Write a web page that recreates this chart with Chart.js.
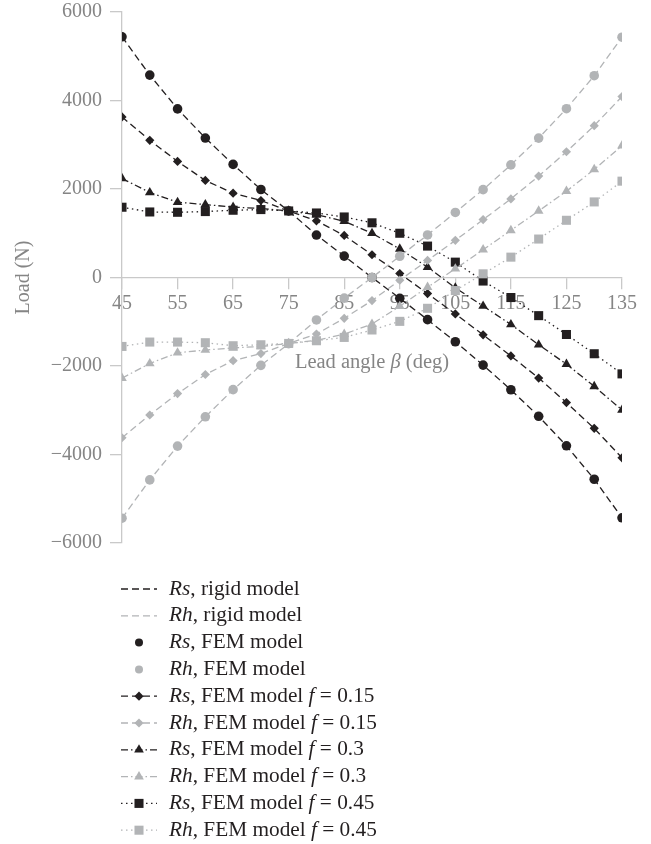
<!DOCTYPE html>
<html>
<head>
<meta charset="utf-8">
<script src="https://cdn.jsdelivr.net/npm/chart.js@4/dist/chart.umd.min.js"></script>
<style>
  html, body { margin: 0; padding: 0; background: #ffffff; }
  #wrap { width: 651px; height: 844px; position: relative; }
</style>
</head>
<body>
<div id="wrap"><canvas id="chart"></canvas></div>
<script>
// Lead angle β (deg) at which the loads were evaluated
const leadAngles = [45, 50, 55, 60, 65, 70, 75, 80, 85, 90, 95, 100, 105, 110, 115, 120, 125, 130, 135];

// Axis tick values
const xTickValues = [45, 55, 65, 75, 85, 95, 105, 115, 125, 135];
const yTickValues = [-6000, -4000, -2000, 0, 2000, 4000, 6000];

// Loads (N)
const rsRigid = [5440, 4574, 3810, 3152, 2556, 1989, 1504, 960, 484, 0, -470, -953, -1452, -1980, -2537, -3137, -3803, -4559, -5430];
const rhRigid = [-5440, -4574, -3810, -3148, -2535, -1985, -1495, -960, -465, 0, 480, 962, 1470, 1985, 2545, 3150, 3815, 4560, 5430];
const rsFem   = [5440, 4574, 3810, 3152, 2556, 1989, 1504, 960, 484, 0, -470, -953, -1452, -1980, -2537, -3137, -3803, -4559, -5430];
const rhFem   = [-5440, -4574, -3810, -3148, -2535, -1985, -1495, -960, -465, 0, 480, 962, 1470, 1985, 2545, 3150, 3815, 4560, 5430];
const rsF015  = [3629, 3100, 2624, 2193, 1905, 1740, 1504, 1280, 950, 514, 90, -363, -824, -1296, -1773, -2272, -2827, -3409, -4075];
const rhF015  = [-3621, -3107, -2624, -2192, -1880, -1720, -1490, -1277, -922, -522, -60, 386, 839, 1308, 1776, 2291, 2842, 3432, 4089];
const rsF03   = [2238, 1921, 1701, 1649, 1590, 1560, 1504, 1420, 1270, 1000, 645, 234, -234, -645, -1062, -1520, -1958, -2460, -2994];
const rhF03   = [-2275, -1943, -1701, -1640, -1590, -1560, -1490, -1420, -1280, -1051, -650, -219, 197, 628, 1066, 1504, 1950, 2442, 2979];
const rsF045  = [1588, 1481, 1474, 1490, 1520, 1535, 1504, 1458, 1368, 1236, 1000, 710, 347, -80, -453, -862, -1288, -1723, -2178];
const rhF045  = [-1558, -1459, -1459, -1474, -1542, -1520, -1490, -1429, -1354, -1186, -991, -696, -295, 83, 460, 869, 1293, 1708, 2177];

const DARK = '#231f20';
const LIGHT = '#b2b4b6';
const AXIS = '#c9c9c9';
const TEXT_GREY = '#858585';
const SERIF = "'Liberation Serif', 'DejaVu Serif', serif";

const pts = arr => arr.map((v, i) => ({ x: leadAngles[i], y: v }));

function lineSeries(label, values, color, dash, style, radius) {
  return {
    label,
    data: pts(values),
    borderColor: color,
    backgroundColor: color,
    pointBackgroundColor: color,
    borderWidth: 1.3,
    borderDash: dash,
    pointStyle: style || 'circle',
    pointRadius: radius || 0,
    pointHoverRadius: radius || 0,
    pointBorderWidth: 0,
    showLine: true,
    tension: 0,
    order: color === DARK ? 1 : 0
  };
}

function markerSeries(label, values, color, style, radius) {
  return {
    label,
    data: pts(values),
    borderColor: color,
    backgroundColor: color,
    pointBackgroundColor: color,
    borderWidth: 0,
    pointStyle: style,
    pointRadius: radius,
    pointHoverRadius: radius,
    pointBorderWidth: 0,
    showLine: false,
    order: color === DARK ? 1 : 0
  };
}

const datasets = [
  lineSeries('Rs, rigid model', rsRigid, DARK, [7, 4]),
  lineSeries('Rh, rigid model', rhRigid, LIGHT, [7, 4]),
  markerSeries('Rs, FEM model', rsFem, DARK, 'circle', 4.8),
  markerSeries('Rh, FEM model', rhFem, LIGHT, 'circle', 4.8),
  lineSeries('Rs, FEM model f = 0.15', rsF015, DARK, [7, 4], 'rectRot', 4.6),
  lineSeries('Rh, FEM model f = 0.15', rhF015, LIGHT, [7, 4], 'rectRot', 4.6),
  lineSeries('Rs, FEM model f = 0.3', rsF03, DARK, [7, 3, 1.5, 3], 'triangle', 5.6),
  lineSeries('Rh, FEM model f = 0.3', rhF03, LIGHT, [7, 3, 1.5, 3], 'triangle', 5.6),
  lineSeries('Rs, FEM model f = 0.45', rsF045, DARK, [1.5, 3.5], 'rect', 6.4),
  lineSeries('Rh, FEM model f = 0.45', rhF045, LIGHT, [1.5, 3.5], 'rect', 6.4)
];

// Draws a string where the symbols Rs, Rh, f and β are set in italics
function drawRich(ctx, text, x, y, size, color) {
  const parts = text.split(/(Rs|Rh|\bf\b|β)/);
  ctx.fillStyle = color;
  ctx.textBaseline = 'middle';
  ctx.textAlign = 'left';
  let cx = x;
  parts.forEach(p => {
    if (!p) return;
    const italic = /^(Rs|Rh|f|β)$/.test(p);
    ctx.font = (italic ? 'italic ' : '') + size + 'px ' + SERIF;
    ctx.fillText(p, cx, y);
    cx += ctx.measureText(p).width;
  });
  return cx - x;
}

function measureRich(ctx, text, size) {
  const parts = text.split(/(Rs|Rh|\bf\b|β)/);
  let w = 0;
  parts.forEach(p => {
    if (!p) return;
    const italic = /^(Rs|Rh|f|β)$/.test(p);
    ctx.font = (italic ? 'italic ' : '') + size + 'px ' + SERIF;
    w += ctx.measureText(p).width;
  });
  return w;
}

// x-axis title under the axis and the stacked legend below the plot
const annotations = {
  id: 'annotations',
  afterDraw(chart) {
    const ctx = chart.ctx;
    const area = chart.chartArea;
    const zeroY = chart.scales.y.getPixelForValue(0);

    ctx.save();
    const title = 'Lead angle β (deg)';
    const tw = measureRich(ctx, title, 20.5);
    drawRich(ctx, title, (area.left + area.right) / 2 - tw / 2, zeroY + 85, 20.5, TEXT_GREY);
    ctx.restore();

    const top = area.bottom + 46;
    const row = 26.8;
    const sx0 = 121, sx1 = 157, sm = 139, tx = 169;
    chart.data.datasets.forEach((ds, i) => {
      const y = top + i * row;
      ctx.save();
      if (ds.showLine) {
        ctx.strokeStyle = ds.borderColor;
        ctx.lineWidth = ds.borderWidth;
        ctx.setLineDash(ds.borderDash || []);
        ctx.beginPath();
        ctx.moveTo(sx0, y);
        ctx.lineTo(sx1, y);
        ctx.stroke();
        ctx.setLineDash([]);
      }
      if (ds.pointRadius > 0) {
        ctx.fillStyle = ds.pointBackgroundColor;
        Chart.helpers.drawPoint(ctx, {
          pointStyle: ds.pointStyle,
          radius: ds.pointStyle === 'circle' ? 4 : ds.pointRadius,
          rotation: 0,
          borderWidth: 0
        }, sm, y);
      }
      drawRich(ctx, ds.label, tx, y, 21.3, DARK);
      ctx.restore();
    });
  }
};

new Chart(document.getElementById('chart'), {
  type: 'line',
  data: { datasets },
  options: {
    responsive: true,
    maintainAspectRatio: false,
    animation: false,
    layout: { padding: { top: 12, right: 29, bottom: 301, left: 0 } },
    plugins: {
      legend: { display: false },
      tooltip: { enabled: false }
    },
    scales: {
      x: {
        type: 'linear',
        position: { y: 0 },
        min: 45,
        max: 135,
        afterBuildTicks: s => { s.ticks = xTickValues.map(v => ({ value: v })); },
        border: { display: true, color: AXIS, width: 1.3 },
        grid: { display: true, drawOnChartArea: false, drawTicks: true, tickLength: 11, color: AXIS, lineWidth: 1.3 },
        ticks: {
          padding: 3,
          autoSkip: false,
          maxRotation: 0,
          color: TEXT_GREY,
          font: { family: SERIF, size: 20 },
          callback: v => String(v)
        }
      },
      y: {
        type: 'linear',
        min: -6000,
        max: 6000,
        afterBuildTicks: s => { s.ticks = yTickValues.map(v => ({ value: v })); },
        afterFit: s => { s.width = 122; s.paddingTop = 0; s.paddingBottom = 0; },
        border: { display: true, color: AXIS, width: 1.3 },
        grid: { display: true, drawOnChartArea: false, drawTicks: true, tickLength: 12, color: AXIS, lineWidth: 1.3 },
        ticks: {
          padding: 8,
          color: TEXT_GREY,
          font: { family: SERIF, size: 20 },
          callback: v => (v < 0 ? '\u2212' + Math.abs(v) : String(v))
        },
        title: {
          display: true,
          text: 'Load (N)',
          color: TEXT_GREY,
          font: { family: SERIF, size: 20 },
          padding: { top: 12, bottom: 0 }
        }
      }
    }
  },
  plugins: [annotations]
});
</script>
</body>
</html>
